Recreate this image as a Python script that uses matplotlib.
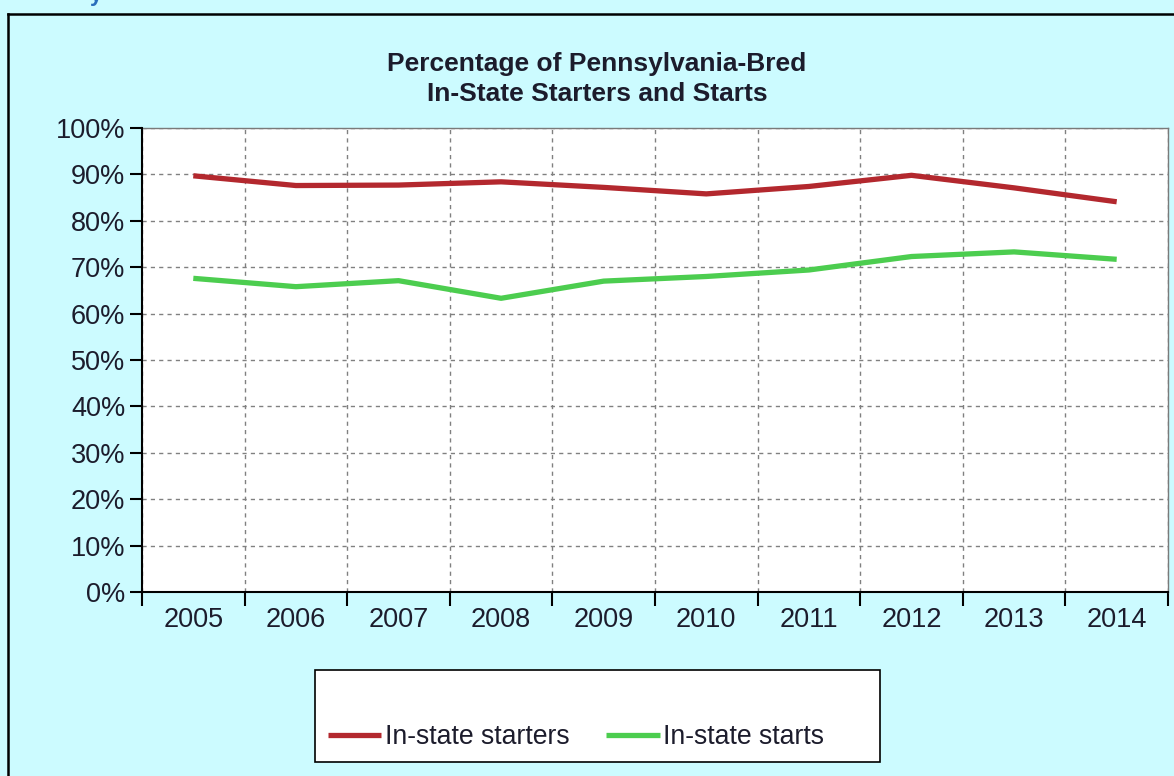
import matplotlib
matplotlib.use('Agg')
import matplotlib.pyplot as plt
from matplotlib.lines import Line2D
from matplotlib.patches import Rectangle
from matplotlib.ticker import FixedLocator, PercentFormatter

##### data #####

years = ['2005', '2006', '2007', '2008', '2009', '2010', '2011', '2012', '2013', '2014']

# percentage of starters that are PA-bred (in-state races)
starters = [89.7, 87.6, 87.7, 88.4, 87.2, 85.8, 87.4, 89.8, 87.1, 84.1]

# percentage of starts made by PA-bred horses
starts = [67.6, 65.8, 67.1, 63.3, 67.0, 68.0, 69.4, 72.3, 73.3, 71.7]

##### styling #####

plt.rcParams['font.family'] = ['Liberation Sans', 'DejaVu Sans']
bg = '#ccfbff'
red = '#b3282e'
green = '#4ccd4f'
txt = '#1c1c2c'

fig = plt.figure(figsize=(11.74, 7.76), dpi=100, facecolor=bg)
ax = fig.add_axes([142/1174, 1 - 592/776, (1168 - 142)/1174, (592 - 128)/776])
ax.set_facecolor('white')

x = range(len(years))
ax.plot(x, starters, color=red, lw=3.8, solid_capstyle='butt', label='In-state starters', zorder=3)
ax.plot(x, starts, color=green, lw=3.8, solid_capstyle='butt', label='In-state starts', zorder=3)

ax.set_xlim(-0.5, len(years) - 0.5)
ax.set_ylim(0, 100)

# ticks at the category boundaries, labels in the middle
ax.xaxis.set_major_locator(FixedLocator([i - 0.5 for i in range(len(years) + 1)]))
ax.xaxis.set_minor_locator(FixedLocator(list(x)))
ax.set_xticklabels([], minor=False)
ax.set_xticklabels(years, minor=True)
ax.tick_params(axis='x', which='major', direction='out', length=10, width=1.5, color='black')
ax.tick_params(axis='x', which='minor', length=0, pad=11, labelsize=19.5, labelcolor=txt)

ax.set_yticks(range(0, 101, 10))
ax.yaxis.set_major_formatter(PercentFormatter(decimals=0))
ax.tick_params(axis='y', direction='out', length=9, width=1.5, color='black',
               pad=3, labelsize=19.5, labelcolor=txt)

# dashed grid
ax.grid(True, which='major', color='#808080', ls=(0, (3, 3)), lw=1)
ax.set_axisbelow(True)

for s in ['left', 'bottom']:
    ax.spines[s].set_color('black')
    ax.spines[s].set_linewidth(1.5)
    ax.spines[s].set_zorder(4)
for s in ['top', 'right']:
    ax.spines[s].set_color('#7a7a7a')
    ax.spines[s].set_linewidth(1)

# title
fig.text(597/1174, 1 - 79/776, 'Percentage of Pennsylvania-Bred\nIn-State Starters and Starts',
         ha='center', va='center', fontsize=19, fontweight='bold', color=txt, linespacing=1.35)

# outer frame (cut off at right and bottom)
fig.add_artist(Line2D([8/1174, 8/1174], [0, 1 - 14/776], color='black', lw=1.8, transform=fig.transFigure))
fig.add_artist(Line2D([8/1174, 1], [1 - 14/776, 1 - 14/776], color='black', lw=1.8, transform=fig.transFigure))

# piece of heading above the frame
fig.text(90/1174, 1 - 0.5/776, 'y', color='#2a6ebb', fontsize=16, fontweight='bold', va='baseline')

# legend box
fig.add_artist(Rectangle((315/1174, 1 - 762/776), (880 - 315)/1174, (762 - 670)/776,
                         transform=fig.transFigure, facecolor='white', edgecolor='black', lw=1.2))
leg = fig.legend(loc='center left', bbox_to_anchor=(328/1174, 1 - 737/776), ncol=2,
                 frameon=False, fontsize=19.2, handlelength=2.0, handletextpad=0.12,
                 columnspacing=1.4, borderpad=0, borderaxespad=0)
for t in leg.get_texts():
    t.set_color(txt)

fig.savefig('out.png', dpi=100, facecolor=bg)
